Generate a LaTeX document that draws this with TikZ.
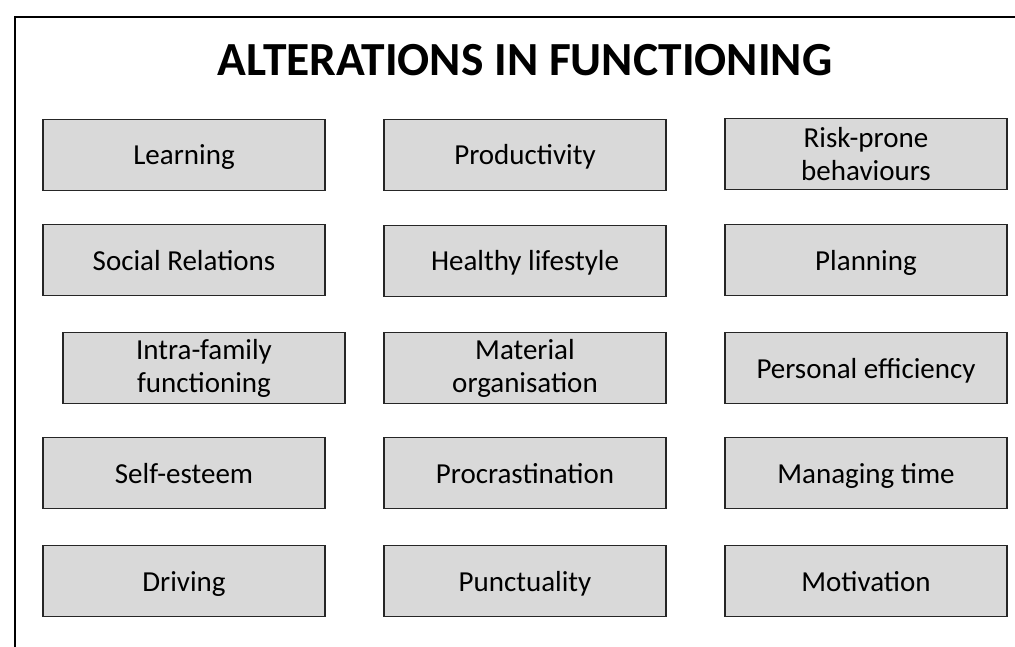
\documentclass[tikz,border=0pt]{standalone}
\usepackage{fontspec}
\setmainfont{Carlito}
\usepackage{tikz}
\usetikzlibrary{positioning}
\definecolor{boxgray}{HTML}{D9D9D9}
\tikzset{
  itembox/.style={draw=black!85, line width=1.2pt, fill=boxgray, minimum width=282pt,
    minimum height=71pt, inner sep=0pt, align=center, font=\fontsize{29}{33}\selectfont},
  oneline/.style={itembox, text height=22pt, text depth=2pt},
}

\begin{document}
\begin{tikzpicture}[x=1pt,y=-1pt]
          \useasboundingbox (0,0) rectangle (1015,647);
          % Frame
          \draw[line width=2pt] (15,647) -- (15,17) -- (1015,17);

          % Title
          \node[font=\fontsize{47.5}{52}\selectfont\bfseries] (title) at (525,60) {ALTERATIONS IN FUNCTIONING};

          % First column
          \node[oneline] (learning) at (184,155) {Learning};
          \node[oneline] (social) at (184,260) {Social Relations};
          \node[itembox] (family) at (204,368) {Intra-family\\functioning};
          \node[oneline] (esteem) at (184,473) {Self-esteem};
          \node[oneline] (driving) at (184,581) {Driving};

          % Second column
          \node[oneline] (product) at (525,155) {Productivity};
          \node[oneline] (health) at (525,261) {Healthy lifestyle};
          \node[itembox] (material) at (525,368) {Material\\organisation};
          \node[oneline] (procrast) at (525,473) {Procrastination};
          \node[oneline] (punct) at (525,581) {Punctuality};

          % Third column
          \node[itembox] (risk) at (866,154) {Risk-prone\\behaviours};
          \node[oneline] (planning) at (866,260) {Planning};
          \node[oneline] (efficiency) at (866,368) {Personal efficiency};
          \node[oneline] (time) at (866,473) {Managing time};
          \node[oneline] (motiv) at (866,581) {Motivation};
        \end{tikzpicture}
\end{document}
